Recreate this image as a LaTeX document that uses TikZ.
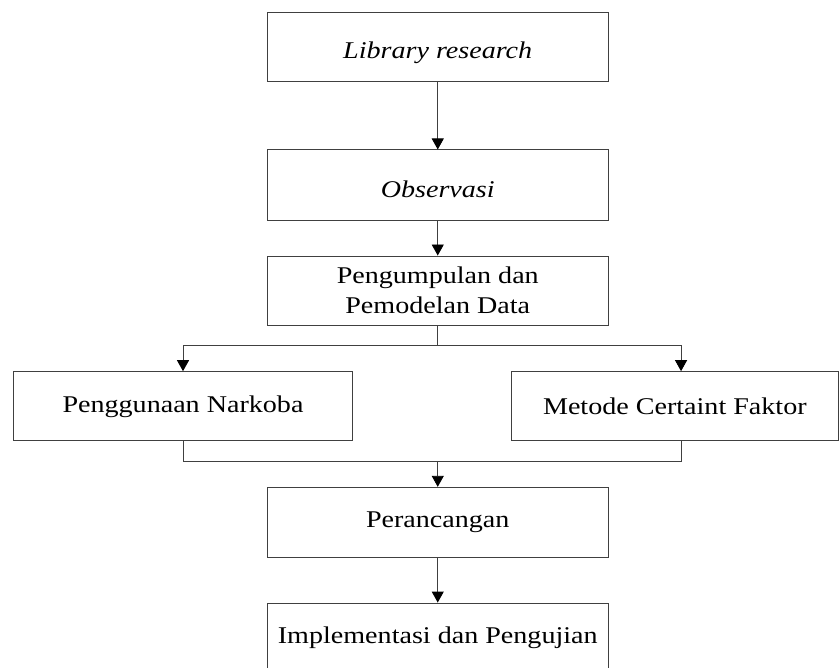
\documentclass[tikz,border=0pt]{standalone}
\usepackage{fontspec}
\setmainfont[FakeStretch=1.17]{Liberation Serif}
\usepackage{tikz}
\usetikzlibrary{arrows.meta}

\begin{document}
\begin{tikzpicture}[
	x=1pt, y=-1pt,
	b/.style={draw=black!75, line width=0.9pt, minimum width=340.5pt, minimum height=69pt, inner sep=0pt, align=center, font=\fontsize{24}{30}\selectfont},
	lo/.style={text height=30pt, text depth=6pt},
	a/.style={draw=black!75, line width=0.9pt, -{Triangle[width=12pt,length=11pt,color=black]}},
	l/.style={draw=black!75, line width=0.9pt}
]
	\useasboundingbox (0,0) rectangle (839,668);

	\node[b, lo] (library) at (437.75, 46.6) {\textit{Library research}};
	\node[b, lo, minimum height=70.7pt] (observasi) at (437.75, 185.3) {\textit{Observasi}};
	\node[b] (pengumpulan) at (437.75, 290.5) {Pengumpulan dan\\Pemodelan Data};
	\node[b, minimum width=339.4pt, minimum height=69.3pt] (penggunaan) at (183, 406.3) {Penggunaan Narkoba};
	\node[b, minimum width=326.3pt, minimum height=69.3pt] (metode) at (674.85, 406.3) {Metode Certaint Faktor};
	\node[b, minimum height=70pt] (perancangan) at (437.75, 522.3) {Perancangan};
	\node[b, minimum height=70pt] (implementasi) at (437.75, 638) {Implementasi dan Pengujian};

	\coordinate (split) at (437.75, 345.7);
	\coordinate (join) at (437.75, 461.7);

	\draw[a] (library) -- (observasi);
	\draw[a] (observasi) -- (pengumpulan);
	\draw[l] (pengumpulan) -- (split);
	\draw[a] (split) -| (penggunaan);
	\draw[a] (split) -| ([xshift=6.2pt]metode.north);
	\draw[l] (penggunaan) |- (join);
	\draw[l] ([xshift=6.2pt]metode.south) |- (join);
	\draw[a] (join) -- (perancangan);
	\draw[a] (perancangan) -- (implementasi);
\end{tikzpicture}
\end{document}
